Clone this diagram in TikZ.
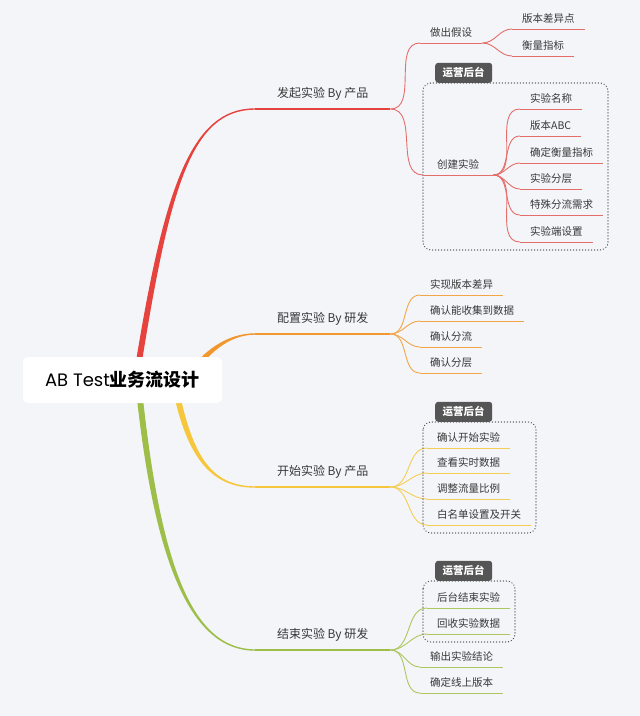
\documentclass[tikz,border=0pt]{standalone}
\usepackage{fontspec}
\setmainfont{Noto Sans CJK SC}
\newfontfamily\latinfont{Poppins}
\usepackage{xcolor}
\usepackage{tikz}
\usetikzlibrary{backgrounds}

\definecolor{bgcol}{RGB}{244,245,249}
\definecolor{txt}{RGB}{56,56,56}
\definecolor{redc}{RGB}{230,67,62}
\definecolor{redl}{RGB}{229,110,106}
\definecolor{orac}{RGB}{242,150,46}
\definecolor{oral}{RGB}{243,166,70}
\definecolor{yelc}{RGB}{246,198,60}
\definecolor{yell}{RGB}{244,206,84}
\definecolor{grnc}{RGB}{157,190,72}
\definecolor{grnl}{RGB}{172,198,96}
\definecolor{tabc}{RGB}{85,85,85}

\begin{document}
\begin{tikzpicture}[x=1pt, y=-1pt,
    root/.style={fill=white, rounded corners=5pt, minimum width=199pt, minimum height=46pt, text=black, font=\fontsize{18}{20}\selectfont},
    branch/.style={anchor=south west, minimum width=135pt, inner ysep=10pt, text height=9pt, text depth=1pt, text=txt, font=\fontsize{12}{14}\selectfont,
        append after command={(\tikzlastnode.south west) edge[draw=#1, line width=1.4pt] (\tikzlastnode.south east)}},
    topic/.style={anchor=south west, inner xsep=10pt, inner ysep=5pt, text height=8pt, text depth=1pt, text=txt, font=\fontsize{10.5}{12}\selectfont,
        append after command={(\tikzlastnode.south west) edge[draw=#1, line width=0.9pt] (\tikzlastnode.south east)}},
    link/.style={draw=#1, line width=0.9pt},
    frame/.style={draw=tabc, line width=1.3pt, dash pattern=on 0.1pt off 2.9pt, line cap=round, rounded corners=8pt},
    tab/.style={anchor=south west, fill=tabc, text=white, rounded corners=3pt, minimum width=57pt, minimum height=20pt, inner sep=0pt, font=\fontsize{10.5}{12}\selectfont\bfseries}]
    \useasboundingbox (0,0) rectangle (640,716);

    % Root and the four branches
    \node[root] (root) at (122.5,380) {{\latinfont AB Test}\textbf{业务流设计}};
    \node[branch=redc] (launch) at (255,109) {发起实验 By 产品};
    \node[branch=orac] (config) at (255,334) {配置实验 By 研发};
    \node[branch=yelc] (begin) at (255,487) {开始实验 By 产品};
    \node[branch=grnc] (close) at (255,650) {结束实验 By 研发};

    % Dotted frames with their tabs
    \draw[frame] (423,83) rectangle (608,250);
    \node[tab] (tab-launch) at (435,83) {运营后台};
    \draw[frame] (423,422) rectangle (536,533);
    \node[tab] (tab-begin) at (435,422) {运营后台};
    \draw[frame] (423,581) rectangle (515,642);
    \node[tab] (tab-close) at (435,581) {运营后台};

    % Red group
    \node[topic=redl] (hypo) at (420,43) {做出假设};
    \node[topic=redl] (diff) at (512,29) {版本差异点};
    \node[topic=redl] (metric) at (512,56) {衡量指标};
    \node[topic=redl, minimum width=70pt] (create) at (423,175) {创建实验};
    \node[topic=redl] (c-name) at (520,109) {实验名称};
    \node[topic=redl] (c-abc) at (520,136) {版本ABC};
    \node[topic=redl] (c-metric) at (520,163) {确定衡量指标};
    \node[topic=redl] (c-layer) at (520,189) {实验分层};
    \node[topic=redl] (c-split) at (520,215) {特殊分流需求};
    \node[topic=redl] (c-client) at (520,242) {实验端设置};

    % Orange group
    \node[topic=oral] (impl) at (420,295) {实现版本差异};
    \node[topic=oral] (collect) at (420,321) {确认能收集到数据};
    \node[topic=oral] (split) at (420,347) {确认分流};
    \node[topic=oral] (layer) at (420,373) {确认分层};

    % Yellow group
    \node[topic=yell] (confirm) at (427,448) {确认开始实验};
    \node[topic=yell] (live) at (427,473) {查看实时数据};
    \node[topic=yell] (ratio) at (427,499) {调整流量比例};
    \node[topic=yell] (white) at (427,525) {白名单设置及开关};

    % Green group
    \node[topic=grnl] (stop) at (427,608) {后台结束实验};
    \node[topic=grnl] (recycle) at (427,634) {回收实验数据};
    \node[topic=grnl] (output) at (420,667) {输出实验结论};
    \node[topic=grnl] (online) at (420,693) {确定线上版本};

    \begin{scope}[on background layer]
        \fill[bgcol] (0,0) rectangle (640,716);

        % Tapered trunks from the root
        \fill[redc] ([xshift=10.5pt]root.center) .. controls (163,190) and (190,108.2) .. ([yshift=0.7pt]launch.south west)
            -- ([yshift=-0.7pt]launch.south west) .. controls (190,109.8) and (169,190) .. ([xshift=16.5pt]root.center) -- cycle;
        \fill[orac] ([xshift=60.5pt]root.center) .. controls (202,350) and (228,333.2) .. ([yshift=0.7pt]config.south west)
            -- ([yshift=-0.7pt]config.south west) .. controls (228,334.8) and (208,354) .. ([xshift=66.5pt]root.center) -- cycle;
        \fill[yelc] ([xshift=48.5pt]root.center) .. controls (185,456) and (210,487.8) .. ([yshift=-0.7pt]begin.south west)
            -- ([yshift=0.7pt]begin.south west) .. controls (210,486.2) and (191,454) .. ([xshift=54.5pt]root.center) -- cycle;
        \fill[grnc] ([xshift=12.5pt]root.center) .. controls (153,561) and (190,650.8) .. ([yshift=-0.7pt]close.south west)
            -- ([yshift=0.7pt]close.south west) .. controls (190,649.2) and (159,559) .. ([xshift=18.5pt]root.center) -- cycle;

        % Red links
        \draw[link=redl] (launch.south east) to[out=0,in=180] (hypo.south west);
        \draw[link=redl] (launch.south east) to[out=0,in=180] (create.south west);
        \draw[link=redl] (hypo.south east) to[out=0,in=180] (diff.south west);
        \draw[link=redl] (hypo.south east) to[out=0,in=180] (metric.south west);
        \draw[link=redl] (create.south east) to[out=0,in=180] (c-name.south west);
        \draw[link=redl] (create.south east) to[out=0,in=180] (c-abc.south west);
        \draw[link=redl] (create.south east) to[out=0,in=180] (c-metric.south west);
        \draw[link=redl] (create.south east) to[out=0,in=180] (c-layer.south west);
        \draw[link=redl] (create.south east) to[out=0,in=180] (c-split.south west);
        \draw[link=redl] (create.south east) to[out=0,in=180] (c-client.south west);

        % Orange links
        \draw[link=oral] (config.south east) to[out=0,in=180] (impl.south west);
        \draw[link=oral] (config.south east) to[out=0,in=180] (collect.south west);
        \draw[link=oral] (config.south east) to[out=0,in=180] (split.south west);
        \draw[link=oral] (config.south east) to[out=0,in=180] (layer.south west);

        % Yellow links
        \draw[link=yell] (begin.south east) to[out=0,in=180] (confirm.south west);
        \draw[link=yell] (begin.south east) to[out=0,in=180] (live.south west);
        \draw[link=yell] (begin.south east) to[out=0,in=180] (ratio.south west);
        \draw[link=yell] (begin.south east) to[out=0,in=180] (white.south west);

        % Green links
        \draw[link=grnl] (close.south east) to[out=0,in=180] (stop.south west);
        \draw[link=grnl] (close.south east) to[out=0,in=180] (recycle.south west);
        \draw[link=grnl] (close.south east) to[out=0,in=180] (output.south west);
        \draw[link=grnl] (close.south east) to[out=0,in=180] (online.south west);
    \end{scope}
\end{tikzpicture}
\end{document}
